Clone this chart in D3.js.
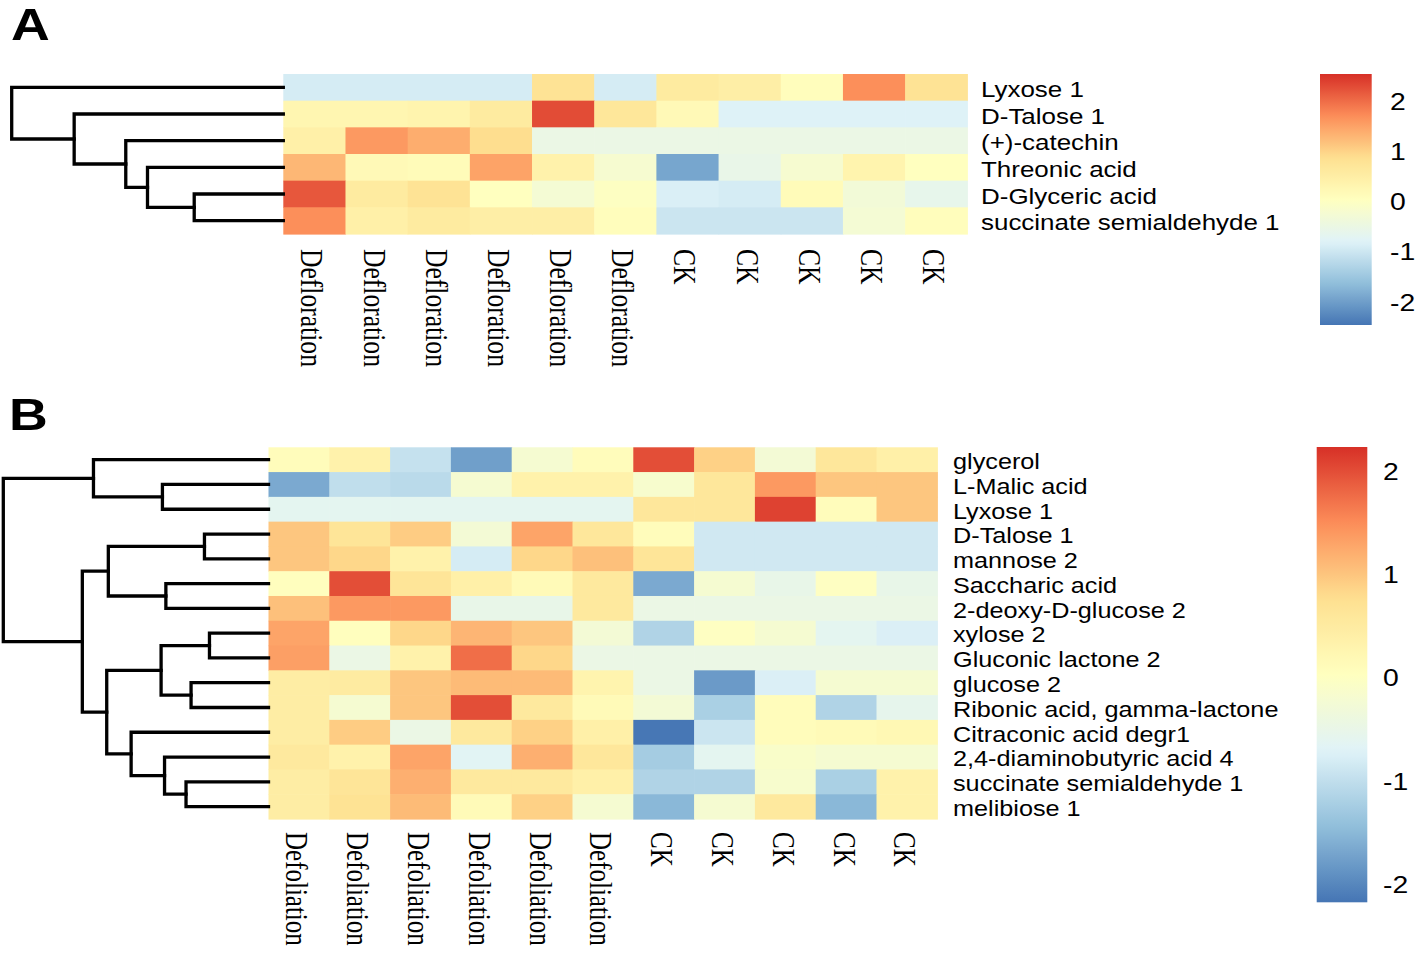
<!DOCTYPE html>
<html><head><meta charset="utf-8">
<script src="https://cdn.jsdelivr.net/npm/d3@7"></script>
<style>body{margin:0;background:#fff;} svg{display:block;}</style>
</head><body><svg id="c" width="1418" height="955"></svg>
<script>
// ---------- DATA: panel A ----------
const colNamesA = ["Defloration","Defloration","Defloration","Defloration","Defloration","Defloration","CK","CK","CK","CK","CK"];
const rowNamesA = ["Lyxose 1","D-Talose 1","(+)-catechin","Threonic acid","D-Glyceric acid","succinate semialdehyde 1"];
const valuesA = [
  [-0.9,-0.9,-0.9,-0.9, 0.8,-0.9, 0.6, 0.5, 0.1, 1.7, 0.8],
  [ 0.3, 0.3, 0.35, 0.6, 2.3, 0.7, 0.2,-0.8,-0.8,-0.8,-0.8],
  [ 0.45, 1.6, 1.4, 0.9,-0.5,-0.5,-0.5,-0.5,-0.5,-0.5,-0.5],
  [ 1.3, 0.2, 0.15, 1.5, 0.4,-0.2,-1.9,-0.55,-0.2, 0.35, 0.05],
  [ 2.2, 0.6, 0.8, 0.05,-0.25, 0.0,-0.85,-0.9, 0.15,-0.3,-0.6],
  [ 1.7, 0.45, 0.6, 0.5, 0.5, 0.1,-1.0,-1.0,-1.0,-0.25, 0.1]
];
// hclust-style merges: negative = leaf (1-based), positive = earlier merge (1-based)
const mergeA = [[-5,-6,0.328],[-4,1,0.5],[-3,2,0.58],[-2,3,0.77],[-1,4,1.0]];
const legendTicksA = [-2,-1,0,1,2];
const legendDomainA = [-2.45, 2.55];

// ---------- DATA: panel B ----------
const colNamesB = ["Defoliation","Defoliation","Defoliation","Defoliation","Defoliation","Defoliation","CK","CK","CK","CK","CK"];
const rowNamesB = ["glycerol","L-Malic acid","Lyxose 1","D-Talose 1","mannose 2","Saccharic acid","2-deoxy-D-glucose 2","xylose 2","Gluconic lactone 2","glucose 2","Ribonic acid, gamma-lactone","Citraconic acid degr1","2,4-diaminobutyric acid 4","succinate semialdehyde 1","melibiose 1"];
const valuesB = [
  [ 0.1, 0.35,-0.95,-1.75,-0.2, 0.1, 2.0, 0.9,-0.25, 0.6, 0.4],
  [-1.65,-1.0,-1.05,-0.2, 0.35, 0.35,-0.15, 0.6, 1.4, 1.0, 1.0],
  [-0.6,-0.6,-0.6,-0.6,-0.6,-0.6, 0.6, 0.6, 2.1, 0.1, 1.0],
  [ 1.0, 0.65, 0.95,-0.25, 1.3, 0.6, 0.1,-0.85,-0.85,-0.85,-0.85],
  [ 1.0, 0.85, 0.35,-0.8, 0.85, 1.05, 0.65,-0.85,-0.85,-0.85,-0.85],
  [ 0.05, 2.0, 0.65, 0.4, 0.15, 0.55,-1.65,-0.2,-0.5, 0.0,-0.5],
  [ 1.05, 1.4, 1.4,-0.5,-0.5, 0.55,-0.45,-0.45,-0.45,-0.45,-0.45],
  [ 1.3, 0.05, 0.85, 1.15, 1.0,-0.25,-1.15, 0.0,-0.2,-0.6,-0.75],
  [ 1.35,-0.45, 0.35, 1.75, 0.85,-0.45,-0.45,-0.45,-0.45,-0.45,-0.45],
  [ 0.45, 0.5, 1.0, 1.1, 1.1, 0.3,-0.45,-1.8,-0.75,-0.2,-0.2],
  [ 0.45,-0.2, 1.0, 2.0, 0.55, 0.15,-0.25,-1.2, 0.1,-1.15,-0.55],
  [ 0.45, 0.95,-0.45, 0.55, 0.9, 0.4,-2.15,-0.9, 0.1, 0.15, 0.2],
  [ 0.55, 0.35, 1.3,-0.65, 1.2, 0.6,-1.25,-0.6,-0.1,-0.2,-0.2],
  [ 0.45, 0.65, 1.2, 0.55, 0.55, 0.4,-1.15,-1.15,-0.15,-1.2, 0.35],
  [ 0.45, 0.7, 1.1, 0.15, 0.9,-0.2,-1.5,-0.2, 0.55,-1.5, 0.35]
];
const mergeB = [[-8,-9,0.2226],[-4,-5,0.2415],[-10,-11,0.292],[-14,-15,0.311],[-6,-7,0.387],[-13,4,0.392],[-2,-3,0.400],[1,3,0.405],[-12,6,0.518],[2,5,0.604],[8,9,0.610],[-1,7,0.660],[10,11,0.702],[12,13,1.0]];
const legendTicksB = [-2,-1,0,1,2];
const legendDomainB = [-2.17, 2.24];

const palette = ["#4575B4","#91BFDB","#E0F3F8","#FFFFBF","#FEE090","#FC8D59","#D73027"];

// ---------- LAYOUT ----------
const SX = 1.18; // horizontal stretch of the original figure's text
const svg = d3.select("#c");

const panels = [
  {letter:"A", lx:11, ly:40, rows:rowNamesA, cols:colNamesA, vals:valuesA, merge:mergeA,
   ticks:legendTicksA, dom:legendDomainA,
   x0:283.3, x1:967.3, y0:74, y1:234, rootX:11.7,
   rowLabX:981, rowFont:22, colLabY:249, colFont:25.6,
   legX:1320, legW:51.7, legY0:74, legY1:325, legLabX:1390, legFont:24},
  {letter:"B", lx:9, ly:430, rows:rowNamesB, cols:colNamesB, vals:valuesB, merge:mergeB,
   ticks:legendTicksB, dom:legendDomainB,
   x0:268.5, x1:937.3, y0:447.3, y1:819, rootX:3.3,
   rowLabX:953, rowFont:21.4, colLabY:832, colFont:25,
   legX:1316.7, legW:50.6, legY0:447, legY1:902.3, legLabX:1383, legFont:24}
];

panels.forEach((p, pi) => {
  const g = svg.append("g");
  const nr = p.rows.length, nc = p.cols.length;
  const x = d3.scaleBand().domain(d3.range(nc)).range([p.x0, p.x1]);
  const y = d3.scaleBand().domain(d3.range(nr)).range([p.y0, p.y1]);
  const [lo, hi] = p.dom;
  const color = d3.scaleLinear()
    .domain(palette.map((_, i) => lo + (hi - lo) * i / (palette.length - 1)))
    .range(palette);

  // cells
  const cells = [];
  p.vals.forEach((row, r) => row.forEach((v, c) => cells.push({r, c, v})));
  g.append("g").selectAll("rect").data(cells).join("rect")
    .attr("x", d => x(d.c)).attr("y", d => y(d.r))
    .attr("width", x.bandwidth() + 0.6).attr("height", y.bandwidth() + 0.6)
    .attr("fill", d => color(d.v));

  // row labels
  g.append("g").selectAll("text").data(p.rows).join("text")
    .attr("transform", (d, i) => `translate(${p.rowLabX},${y(i) + y.bandwidth() / 2 + 2}) scale(${SX},1)`)
    .attr("dominant-baseline", "central")
    .attr("font-family", "'Liberation Sans', Arial, sans-serif")
    .attr("font-size", p.rowFont).attr("fill", "#000")
    .text(d => d);

  // column labels (rotated, reading top to bottom)
  g.append("g").selectAll("text").data(p.cols).join("text")
    .attr("transform", (d, i) => `translate(${x(i) + x.bandwidth() / 2 - 2},${p.colLabY}) scale(1.25,1) rotate(90)`)
    .attr("dominant-baseline", "central")
    .attr("font-family", "'Liberation Serif', 'Times New Roman', serif")
    .attr("font-size", p.colFont).attr("fill", "#000")
    .text(d => d);

  // dendrogram
  const maxH = d3.max(p.merge, m => m[2]);
  const hx = d3.scaleLinear().domain([0, maxH]).range([p.x0, p.rootX]);
  const nodes = [];
  const getNode = id => id < 0 ? {y: y(-id - 1) + y.bandwidth() / 2, h: 0} : nodes[id - 1];
  const segs = [];
  p.merge.forEach(m => {
    const a = getNode(m[0]), b = getNode(m[1]);
    const h = m[2];
    segs.push({a, b, h});
    nodes.push({y: (a.y + b.y) / 2, h});
  });
  g.append("g").selectAll("path").data(segs).join("path")
    .attr("d", s => `M${hx(s.a.h)},${s.a.y}H${hx(s.h)}V${s.b.y}H${hx(s.b.h)}`)
    .attr("fill", "none").attr("stroke", "#000").attr("stroke-width", 3.3)
    .attr("stroke-linecap", "square").attr("stroke-linejoin", "miter");

  // legend
  const gid = "grad" + pi;
  const grad = svg.append("defs").append("linearGradient").attr("id", gid)
    .attr("x1", 0).attr("y1", 0).attr("x2", 0).attr("y2", 1);
  d3.range(0, 1.0001, 0.02).forEach(t => {
    grad.append("stop").attr("offset", t).attr("stop-color", color(hi - t * (hi - lo)));
  });
  const ly = d3.scaleLinear().domain([lo, hi]).range([p.legY1, p.legY0]);
  g.append("rect").attr("x", p.legX).attr("y", p.legY0)
    .attr("width", p.legW).attr("height", p.legY1 - p.legY0)
    .attr("fill", `url(#${gid})`);
  g.append("g").selectAll("text").data(p.ticks).join("text")
    .attr("transform", d => `translate(${p.legLabX},${ly(d)}) scale(${SX},1)`)
    .attr("dominant-baseline", "central")
    .attr("font-family", "'Liberation Sans', Arial, sans-serif")
    .attr("font-size", p.legFont).attr("fill", "#000")
    .text(d => d < 0 ? "-" + Math.abs(d) : d);

  // panel letter
  svg.append("text")
    .attr("transform", `translate(${p.lx},${p.ly}) scale(1.22,1)`)
    .attr("font-family", "'Liberation Sans', Arial, sans-serif")
    .attr("font-weight", "bold").attr("font-size", 44).attr("fill", "#000")
    .text(p.letter);
});
</script>
</body></html>
